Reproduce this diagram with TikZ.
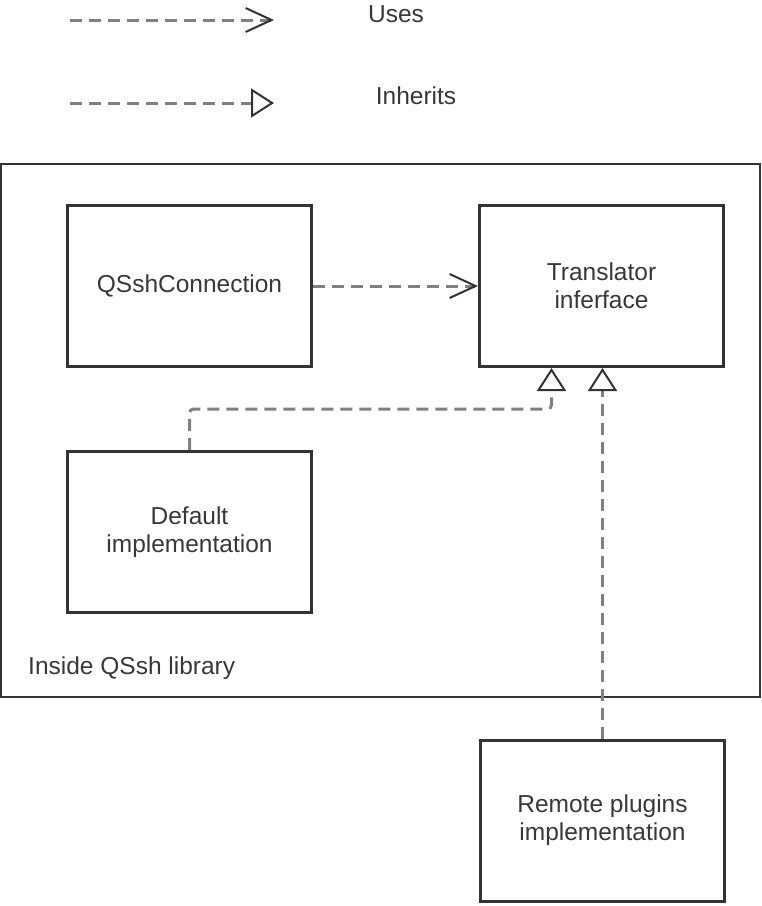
\documentclass[tikz,border=0pt]{standalone}
\usepackage{fontspec}
\setmainfont{Liberation Sans}
\usetikzlibrary{arrows.meta}
\definecolor{edge}{HTML}{333333}
\definecolor{ink}{HTML}{383838}
\definecolor{dash}{HTML}{808080}
\begin{document}
\begin{tikzpicture}[x=1pt,y=-1pt,
  font=\fontsize{24.5}{28}\selectfont,
  classbox/.style={draw=edge, line width=3pt, fill=white, text=ink,
    minimum width=244pt, minimum height=161pt, align=center, inner sep=0pt},
  label/.style={text=ink, inner sep=0pt},
  uses/.style={draw=dash, line width=3pt, dash pattern=on 12pt off 7pt,
    -{Straight Barb[length=26pt, width=24pt, line width=2pt, color=edge]}},
  inherits/.style={draw=dash, line width=3pt, dash pattern=on 12pt off 7pt,
    -{Triangle[open, length=23pt, width=29pt, line width=2pt, color=edge, fill=white]}}]
\useasboundingbox (0,0) rectangle (762,906);

% legend
\coordinate (u1) at (70,20);
\coordinate (u2) at (274,20);
\coordinate (i1) at (70,103);
\coordinate (i2) at (274,103);
\draw[uses] (u1) -- (u2);
\draw[inherits] (i1) -- (i2);
\node[label] (usesl) at (396,14) {Uses};
\node[label] (inhl) at (416,96) {Inherits};

% library boundary
\node[draw=edge, line width=2pt, minimum width=759pt, minimum height=533pt,
  inner sep=0pt] (lib) at (380.5,430.5) {};
\node[label, anchor=west] (libl) at (28,668) {Inside QSsh library};

% classes
\node[classbox] (qs) at (189.5,286) {QSshConnection};
\node[classbox] (tr) at (601.5,286) {Translator\\inferface};
\node[classbox] (def) at (189.5,532) {Default\\implementation};
\node[classbox] (rem) at (602.5,820.5) {Remote plugins\\implementation};

% relations
\draw[uses] (qs.east) -- (tr.west);
\draw[inherits, rounded corners=4pt] (def.north) -- ++(0,-41) -| ([xshift=-50pt]tr.south);
\draw[inherits] (rem.north) -- (rem.north |- tr.south);
\end{tikzpicture}
\end{document}
